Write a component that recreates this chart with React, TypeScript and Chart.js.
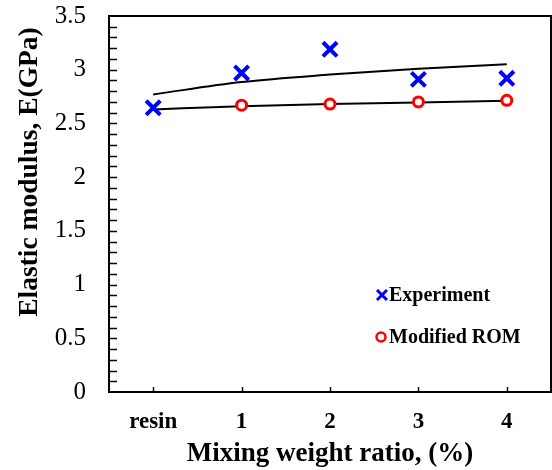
import React, { useEffect, useRef } from "react";
import { Chart, registerables } from "chart.js";

Chart.register(...registerables);

const categories = ["resin", "1", "2", "3", "4"];
const experiment = [2.645, 2.97, 3.19, 2.91, 2.92];
const modifiedROM = [null, 2.67, 2.68, 2.7, 2.715];
const experimentTrend = [2.77, 2.885, 2.955, 3.01, 3.05];
const romTrend = [2.63, 2.66, 2.68, 2.695, 2.71];
const yTicks = [0, 0.5, 1, 1.5, 2, 2.5, 3, 3.5];

const SERIF = "'Liberation Serif', 'Times New Roman', serif";

const framePlugin = {
  id: "frame",
  afterDraw(chart: any) {
    const { ctx, chartArea } = chart;
    const xs = chart.scales.x;
    const ys = chart.scales.y;
    ctx.save();
    ctx.strokeStyle = "#000";
    ctx.lineWidth = 2;
    ctx.strokeRect(chartArea.left, chartArea.top, chartArea.right - chartArea.left, chartArea.bottom - chartArea.top);
    // inner y ticks every 0.1
    ctx.lineWidth = 1.5;
    ctx.beginPath();
    for (let i = 1; i < 35; i++) {
      const py = Math.round(ys.getPixelForValue(i / 10)) + 0.5;
      ctx.moveTo(chartArea.left, py);
      ctx.lineTo(chartArea.left + 8, py);
    }
    // inner x ticks at categories
    for (let i = 0; i < categories.length; i++) {
      const px = Math.round(xs.getPixelForValue(i)) + 0.5;
      ctx.moveTo(px, chartArea.bottom);
      ctx.lineTo(px, chartArea.bottom - 5);
    }
    ctx.stroke();

    // y title
    ctx.fillStyle = "#000";
    ctx.font = `bold 27.5px ${SERIF}`;
    ctx.textAlign = "center";
    ctx.textBaseline = "middle";
    ctx.translate(30, 172);
    ctx.rotate(-Math.PI / 2);
    ctx.fillText("Elastic modulus, E(GPa)", 0, 0);
    ctx.restore();

    // legend
    ctx.save();
    ctx.font = `bold 20px ${SERIF}`;
    ctx.textAlign = "left";
    ctx.textBaseline = "middle";
    ctx.fillStyle = "#000";
    // Experiment
    ctx.strokeStyle = "#0000ff";
    ctx.lineWidth = 3;
    const cx = 382, cy = 295, h = 5;
    ctx.beginPath();
    ctx.moveTo(cx - h, cy - h);
    ctx.lineTo(cx + h, cy + h);
    ctx.moveTo(cx + h, cy - h);
    ctx.lineTo(cx - h, cy + h);
    ctx.stroke();
    ctx.fillText("Experiment", 389, 296);
    // Modified ROM
    ctx.strokeStyle = "#ff0000";
    ctx.lineWidth = 2.5;
    ctx.beginPath();
    ctx.arc(381, 337, 4.5, 0, Math.PI * 2);
    ctx.stroke();
    ctx.fillText("Modified ROM", 389, 338);
    ctx.restore();
  },
};

export default function App() {
  const ref = useRef<HTMLCanvasElement>(null);
  useEffect(() => {
    const chart = new Chart(ref.current!, {
      type: "line",
      data: {
        labels: categories,
        datasets: [
          {
            label: "Experiment",
            data: experiment,
            showLine: false,
            pointStyle: "crossRot",
            pointRadius: 10,
            pointBorderWidth: 4,
            pointBorderColor: "#0000ff",
            pointBackgroundColor: "#0000ff",
            borderColor: "#0000ff",
          },
          {
            label: "Modified ROM",
            data: modifiedROM,
            showLine: false,
            pointStyle: "circle",
            pointRadius: 5,
            pointBorderWidth: 3,
            pointBorderColor: "#ff0000",
            pointBackgroundColor: "#ffffff",
            borderColor: "#ff0000",
          },
          {
            label: "Experiment fit",
            data: experimentTrend,
            borderColor: "#000",
            borderWidth: 2,
            pointRadius: 0,
            cubicInterpolationMode: "monotone",
          },
          {
            label: "ROM fit",
            data: romTrend,
            borderColor: "#000",
            borderWidth: 2,
            pointRadius: 0,
            cubicInterpolationMode: "monotone",
          },
        ],
      },
      options: {
        animation: false,
        responsive: false,
        devicePixelRatio: 1,
        layout: { autoPadding: false, padding: { top: 16, right: 1, left: 0, bottom: 0 } },
        plugins: { legend: { display: false }, tooltip: { enabled: false } },
        scales: {
          x: {
            type: "category",
            offset: true,
            grid: { display: false, drawTicks: false },
            border: { display: false },
            ticks: {
              color: "#000",
              padding: 16,
              font: { family: SERIF, size: 23, weight: "bold" },
              maxRotation: 0,
            },
            title: {
              display: true,
              text: "Mixing weight ratio, (%)",
              color: "#000",
              font: { family: SERIF, size: 27, weight: "bold" },
              padding: { top: 0, bottom: 0 },
            },
            afterFit: (s: any) => {
              s.height = 78;
              s.paddingLeft = 0;
              s.paddingRight = 0;
              s.paddingTop = 0;
              s.paddingBottom = 0;
            },
          },
          y: {
            min: 0,
            max: 3.5,
            afterBuildTicks: (s: any) => {
              s.ticks = yTicks.map((v) => ({ value: v }));
            },
            grid: { display: false, drawTicks: false },
            border: { display: false },
            ticks: {
              color: "#000",
              padding: 23,
              font: { family: SERIF, size: 25 },
              callback: (v: any) => String(v),
            },
            afterFit: (s: any) => {
              s.width = 109;
              s.paddingLeft = 0;
              s.paddingRight = 0;
              s.paddingTop = 0;
              s.paddingBottom = 0;
            },
          },
        },
      },
      plugins: [framePlugin],
    } as any);
    return () => chart.destroy();
  }, []);
  return (
    <div
      style={{
        position: "absolute",
        left: 0,
        top: 0,
        width: 552,
        height: 470,
        overflow: "hidden",
        background: "#fff",
      }}
    >
      <canvas
        ref={ref}
        width={552}
        height={470}
        style={{ display: "block", width: 552, height: 470 }}
      />
    </div>
  );
}
